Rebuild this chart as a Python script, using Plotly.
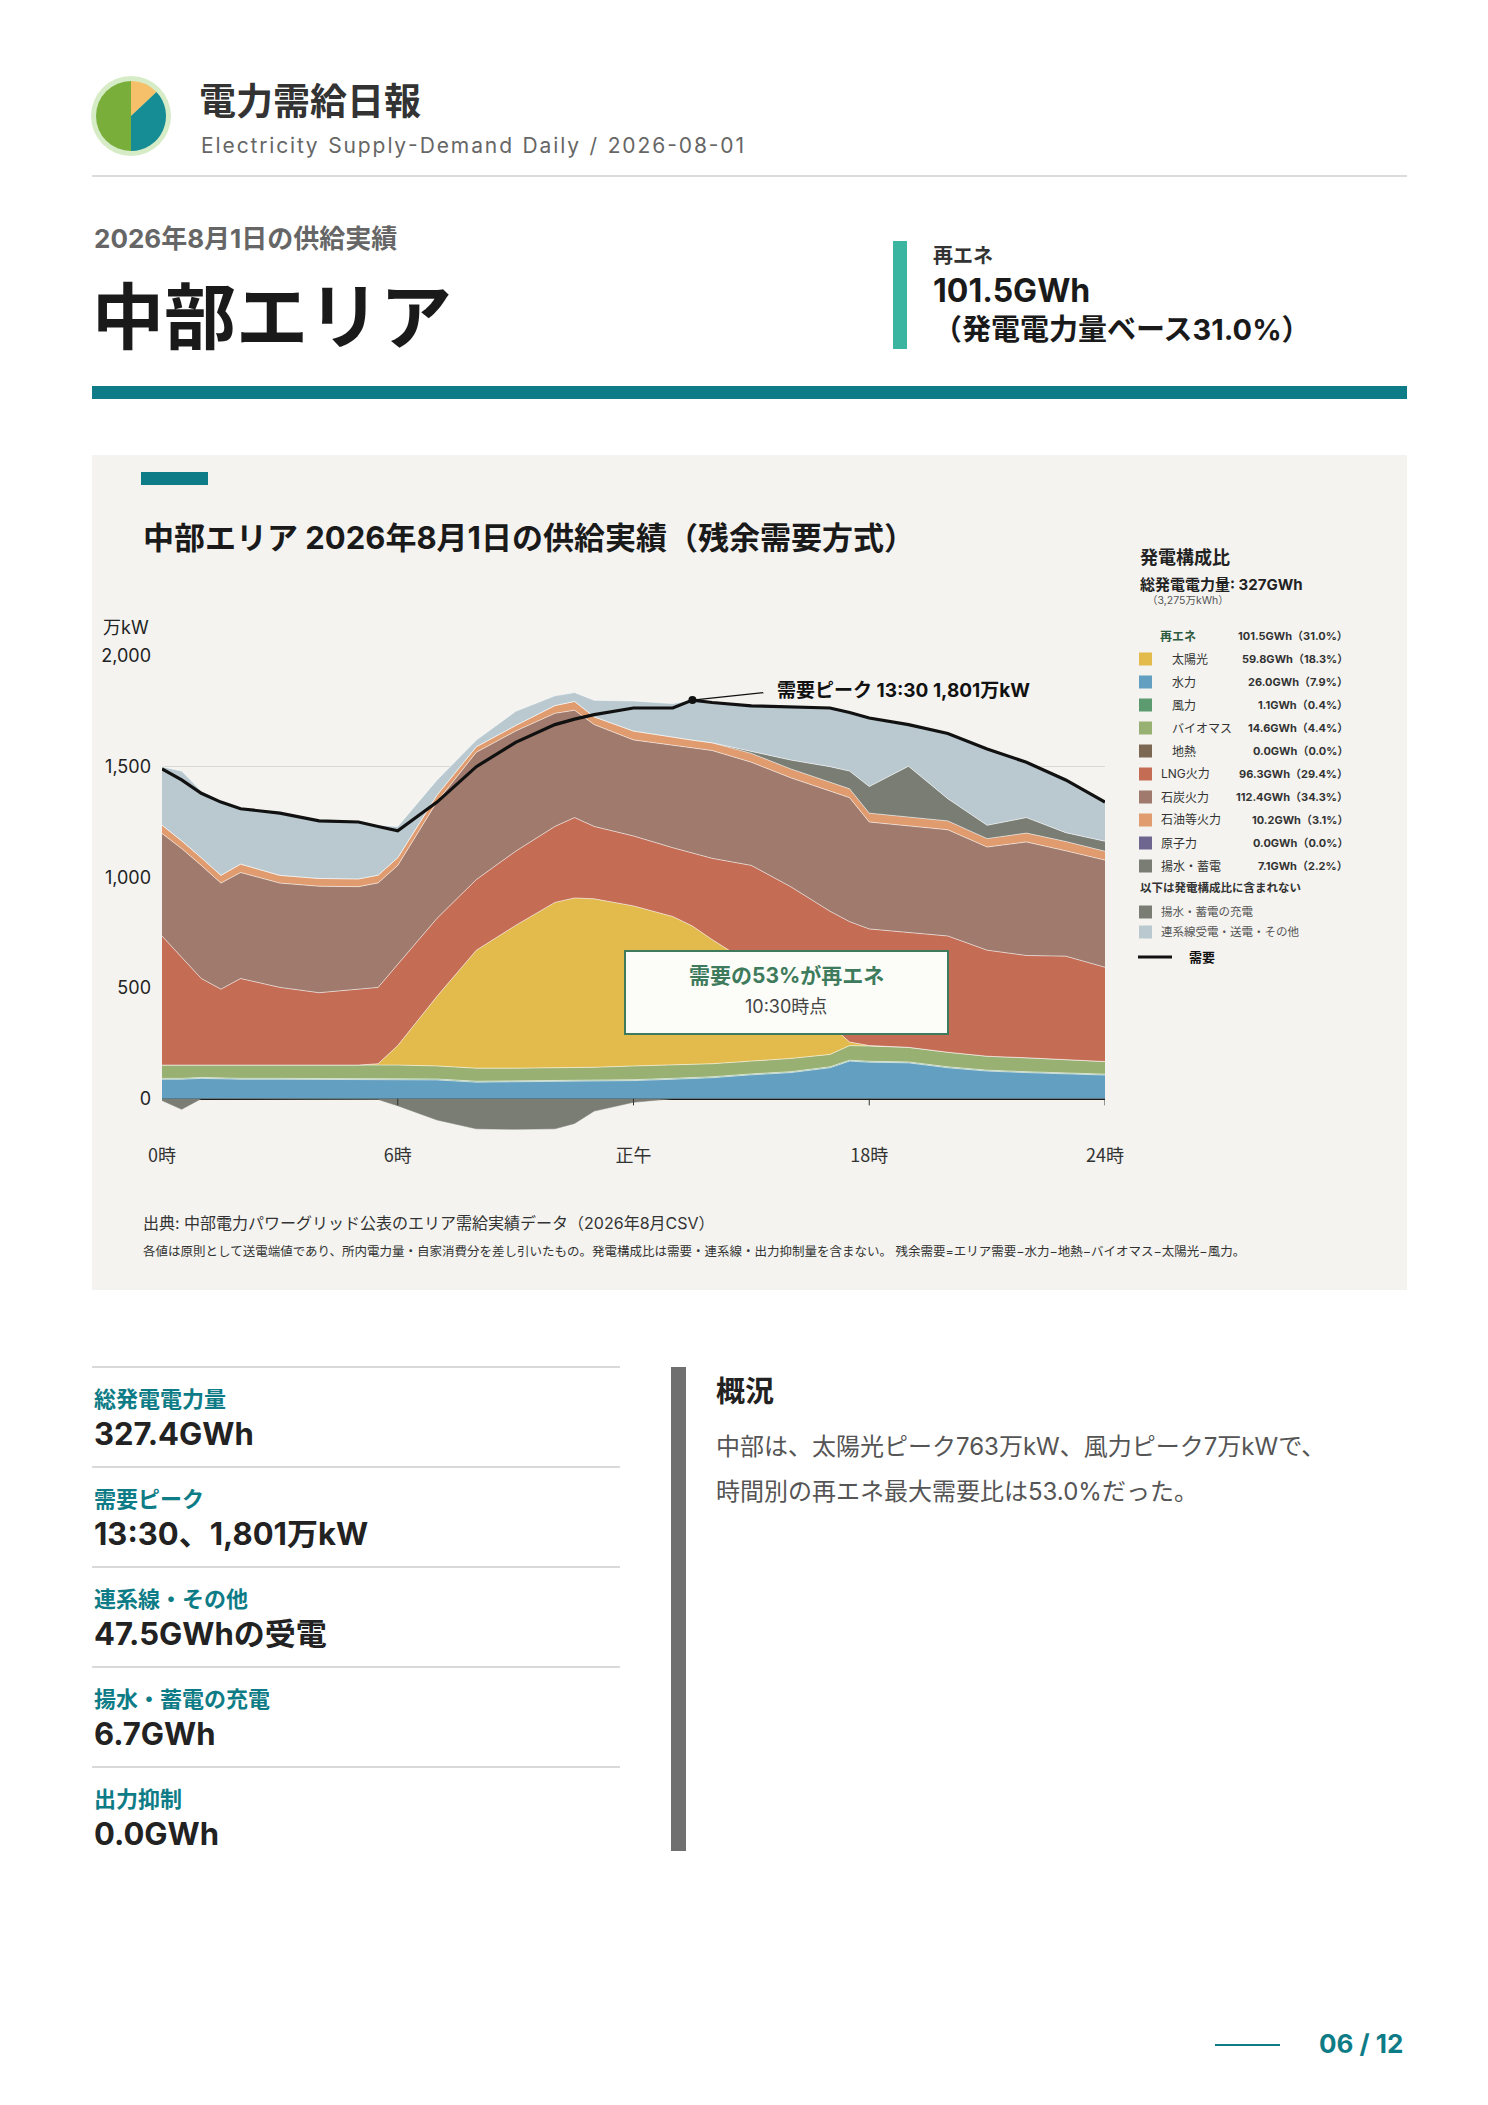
import plotly.graph_objects as go

W, H = 1488, 2105
F = "Inter, Noto Sans CJK JP, sans-serif"
FJ = "Noto Sans CJK JP, sans-serif"

# ---- data (万kW) ----
hours = [0,0.5,1,1.5,2,3,4,5,5.5,6,7,8,9,10,10.5,11,12,13,13.5,14,15,16,17,17.5,18,19,20,21,22,23,24]
demand = [1490,1440,1380,1340,1310,1290,1255,1250,1230,1210,1340,1500,1610,1690,1715,1735,1765,1765,1801,1790,1775,1770,1765,1745,1720,1690,1650,1580,1520,1440,1340]
hydro = [88,88,92,90,88,88,88,88,88,88,85,75,76,77,78,80,82,88,90,95,108,118,140,170,165,162,140,125,118,112,107]
wind = [4]*31
green_top = [152]*10 + [148,138,138,140,140,142,148,152,154,158,170,182,200,240,238,232,210,192,185,175,168]
solar_top = [0]*8 + [158,240,463,671,783,887,907,903,871,823,780,719,607,463,335,256,240] + [0]*6
lng_top = [735,640,543,495,543,503,479,495,503,607,815,990,1118,1230,1270,1230,1187,1134,1110,1086,1054,958,847,800,767,751,735,671,647,644,594]
coal_top = [1198,1130,1054,974,1022,974,960,958,975,1054,1342,1565,1661,1741,1755,1690,1621,1597,1585,1573,1520,1450,1390,1360,1250,1232,1215,1137,1160,1120,1078]
oil = [38,35,35,35,38,35,35,35,35,35,30,25,25,35,40,35,40,35,35,35,40,40,40,40,40,40,40,38,40,42,40]
pumped_gen = [0]*20 + [10,40,70,80,120,230,100,60,70,40,45]
ic_top = [1500,1480,1390,1345,1315,1295,1260,1255,1235,1230,1440,1620,1750,1820,1835,1800,1797,1785,1801,1790,1775,1770,1765,1745,1720,1690,1650,1580,1520,1440,1340]
pumped_charge = [-8,-48,0,0,0,0,0,0,-3,-32,-96,-136,-138,-136,-112,-56,-16] + [0]*14

xticks = [0,6,12,18,24]
xlabels = ["0時","6時","正午","18時","24時"]
yticks = [0,500,1000,1500,2000]
ylabels = ["0","500","1,000","1,500","2,000"]

legend_rows = [
    ("太陽光","59.8GWh（18.3%）","#e2bb4c",True),
    ("水力","26.0GWh（7.9%）","#629fc0",True),
    ("風力","1.1GWh（0.4%）","#5c9a70",True),
    ("バイオマス","14.6GWh（4.4%）","#98b072",True),
    ("地熱","0.0GWh（0.0%）","#7c6753",True),
    ("LNG火力","96.3GWh（29.4%）","#c56c55",False),
    ("石炭火力","112.4GWh（34.3%）","#a07a6c",False),
    ("石油等火力","10.2GWh（3.1%）","#e09b6e",False),
    ("原子力","0.0GWh（0.0%）","#6f6690",False),
    ("揚水・蓄電","7.1GWh（2.2%）","#7a7d74",False),
]

# ---- derived layers ----
n = len(hours)
base_ren = [max(green_top[i], solar_top[i]) for i in range(n)]
biomass = [green_top[i]-hydro[i]-wind[i] for i in range(n)]
solar = [max(solar_top[i]-green_top[i], 0) for i in range(n)]
lng = [lng_top[i]-base_ren[i] for i in range(n)]
coal = [coal_top[i]-lng_top[i] for i in range(n)]
ic = [max(ic_top[i]-(coal_top[i]+oil[i]+pumped_gen[i]), 0) for i in range(n)]

fig = go.Figure()
layers = [("水力",hydro,"#629fc0"),("風力",wind,"#5c9a70"),("バイオマス",biomass,"#98b072"),
          ("太陽光",solar,"#e2bb4c"),("LNG火力",lng,"#c56c55"),("石炭火力",coal,"#a07a6c"),
          ("石油等火力",oil,"#e09b6e"),("揚水・蓄電",pumped_gen,"#7a7d74"),("連系線",ic,"#b9c9cf")]
for name, vals, col in layers:
    fig.add_trace(go.Scatter(x=hours, y=vals, name=name, stackgroup="pos", mode="lines",
                             line=dict(width=0.8, color="rgba(255,255,255,0.7)"), fillcolor=col,
                             showlegend=False, hoverinfo="skip"))
fig.add_trace(go.Scatter(x=hours, y=pumped_charge, mode="lines", fill="tozeroy",
                         line=dict(width=0.5, color="#7a7d74"), fillcolor="#7a7d74", showlegend=False))
fig.add_trace(go.Scatter(x=hours, y=demand, mode="lines", line=dict(color="#111", width=3.2), showlegend=False))
fig.add_trace(go.Scatter(x=[13.5], y=[1801], mode="markers", marker=dict(color="#111", size=8), showlegend=False))

# pie icon
fig.add_trace(go.Pie(values=[13,37,50], marker=dict(colors=["#f6c06b","#168c95","#79ae3b"]),
                     sort=False, direction="clockwise", rotation=0, textinfo="none", hoverinfo="skip",
                     domain=dict(x=[96/W,166/W], y=[1-151/H,1-81/H]), showlegend=False))

px = lambda v: v/W
py = lambda v: 1-v/H

fig.update_layout(
    width=W, height=H, margin=dict(l=0,r=0,t=0,b=0,pad=0,autoexpand=False), paper_bgcolor="white",
    plot_bgcolor="#fafaf5", font=dict(family=F),
    xaxis=dict(domain=[px(162),px(1105)], range=[0,24], tickvals=xticks, ticktext=xlabels,
               showgrid=False, zeroline=False, ticks="", tickfont=dict(size=18,color="#333",family=FJ),
               fixedrange=True, automargin=False),
    yaxis=dict(domain=[py(1143),py(656)], range=[-200,2000], tickvals=yticks, ticktext=ylabels,
               showgrid=True, gridcolor="#d9d9d4", zeroline=True, zerolinecolor="#111", zerolinewidth=2.5,
               tickfont=dict(size=18,color="#222"), ticks="", ticklabelstandoff=10, automargin=False),
)

shapes = [
    dict(type="circle", xref="paper", yref="paper", x0=px(91), x1=px(171), y0=py(156), y1=py(76),
         fillcolor="#d6ecc6", line=dict(width=0), layer="below"),
    dict(type="line", xref="paper", yref="paper", x0=px(92), x1=px(1407), y0=py(176), y1=py(176), line=dict(color="#cfcfcf", width=1.5)),
    dict(type="rect", xref="paper", yref="paper", x0=px(893), x1=px(907), y0=py(349), y1=py(241), fillcolor="#3bb5a0", line=dict(width=0)),
    dict(type="rect", xref="paper", yref="paper", x0=px(92), x1=px(1407), y0=py(399), y1=py(386), fillcolor="#0e7c86", line=dict(width=0)),
    dict(type="rect", xref="paper", yref="paper", x0=px(92), x1=px(1407), y0=py(1290), y1=py(455), fillcolor="#f4f3f0", line=dict(width=0), layer="below"),
    dict(type="rect", xref="paper", yref="paper", x0=px(141), x1=px(208), y0=py(485), y1=py(472), fillcolor="#0e7c86", line=dict(width=0)),
    dict(type="rect", xref="paper", yref="paper", x0=px(625), x1=px(948), y0=py(1034), y1=py(951), fillcolor="#fcfcf8", line=dict(color="#3d7b5c", width=2)),
    dict(type="line", xref="x", yref="y", x0=13.5, y0=1801, x1=15.3, y1=1835, line=dict(color="#111", width=1.2)),
    dict(type="rect", xref="paper", yref="paper", x0=px(671), x1=px(686), y0=py(1851), y1=py(1367), fillcolor="#707070", line=dict(width=0)),
    dict(type="line", xref="paper", yref="paper", x0=px(1215), x1=px(1280), y0=py(2045), y1=py(2045), line=dict(color="#0e7c86", width=2)),
    dict(type="line", xref="paper", yref="paper", x0=px(1138), x1=px(1172), y0=py(957), y1=py(957), line=dict(color="#111", width=3)),
]
for k in range(5):
    yy = 1367 + 100*k
    shapes.append(dict(type="line", xref="paper", yref="paper", x0=px(92), x1=px(620), y0=py(yy), y1=py(yy), line=dict(color="#cccccc", width=1.5)))
for t in [6,12,18,24]:
    shapes.append(dict(type="line", xref="x", yref="y", x0=t, x1=t, y0=0, y1=-30, line=dict(color="#333", width=1)))

ann = []
def T(x, y, text, size, color="#222", bold=False, anchor="left", fam=F):
    ann.append(dict(xref="paper", yref="paper", x=px(x), y=py(y), text=f"<b>{text}</b>" if bold else text,
                    showarrow=False, xanchor=anchor, yanchor="middle", font=dict(size=size, color=color, family=fam)))

T(197, 99, "電力需給日報", 37, "#333", True, fam=FJ)
T(199, 146, "E l e c t r i c i t y  S u p p l y - D e m a n d  D a i l y  /  2 0 2 6 - 0 8 - 0 1".replace("  ","\u2002").replace(" ","\u200a"), 21, "#666")
T(92, 239, "2026年8月1日の供給実績", 26, "#666", True)
T(90, 311, "中部エリア", 72, "#1a1a1a", True, fam=FJ)
T(931, 256, "再エネ", 20, "#333", True)
T(931, 291, "101.5GWh", 32, "#1a1a1a", True)
T(931, 329, "（発電電力量ベース31.0%）", 29, "#1a1a1a", True)
T(141, 537, "中部エリア 2026年8月1日の供給実績（残余需要方式）", 31, "#1a1a1a", True)
T(101, 627, "万kW", 18, "#222")
T(141, 1223, "出典: 中部電力パワーグリッド公表のエリア需給実績データ（2026年8月CSV）", 16, "#333")
T(141, 1251, "各値は原則として送電端値であり、所内電力量・自家消費分を差し引いたもの。発電構成比は需要・連系線・出力抑制量を含まない。 残余需要=エリア需要−水力−地熱−バイオマス−太陽光−風力。", 12.5, "#333")
T(786, 975, "需要の53%が再エネ", 21, "#3d7b5c", True, "center")
T(786, 1006, "10:30時点", 18, "#444", False, "center")
T(775, 691, "需要ピーク 13:30 1,801万kW", 19, "#111", True)

# legend panel
T(1138, 557, "発電構成比", 18, "#222", True)
T(1138, 584, "総発電電力量: 327GWh", 15, "#222", True)
T(1145, 600, "（3,275万kWh）", 10.5, "#555")
T(1158, 636, "再エネ", 12, "#2d5a3e", True)
T(1350, 636, "101.5GWh（31.0%）", 11, "#333", True, "right")
for i, (lab, val, col, indent) in enumerate(legend_rows):
    yy = 659 + 23*i
    shapes.append(dict(type="rect", xref="paper", yref="paper", x0=px(1139), x1=px(1152), y0=py(yy+6.5), y1=py(yy-6.5), fillcolor=col, line=dict(width=0)))
    T(1170 if indent else 1159, yy, lab, 12, "#333")
    T(1350, yy, val, 11, "#333", True, "right")
T(1138, 888, "以下は発電構成比に含まれない", 11.5, "#333", True)
for i, (lab, col) in enumerate([("揚水・蓄電の充電","#7a7d74"),("連系線受電・送電・その他","#b9c9cf")]):
    yy = 912 + 20*i
    shapes.append(dict(type="rect", xref="paper", yref="paper", x0=px(1139), x1=px(1152), y0=py(yy+6.5), y1=py(yy-6.5), fillcolor=col, line=dict(width=0)))
    T(1159, yy, lab, 11.5, "#555")
T(1187, 957, "需要", 13, "#111", True)

# KPIs
kpis = [("総発電電力量","327.4GWh"),("需要ピーク","13:30、1,801万kW"),("連系線・その他","47.5GWhの受電"),
        ("揚水・蓄電の充電","6.7GWh"),("出力抑制","0.0GWh")]
for k, (lab, val) in enumerate(kpis):
    T(92, 1399+100*k, lab, 22, "#0e7c86", True)
    T(92, 1433+100*k, val, 31, "#222", True)

T(714, 1391, "概況", 29, "#222", True)
T(714, 1446, "中部は、太陽光ピーク763万kW、風力ピーク7万kWで、", 24, "#555")
T(714, 1491, "時間別の再エネ最大需要比は53.0%だった。", 24, "#555")
T(1405, 2043, "06 / 12", 26, "#0e7c86", True, "right")

fig.update_layout(shapes=shapes, annotations=ann)
fig.write_html("out.html", config={"displayModeBar": False},
               post_script="document.body.style.margin='0';document.body.style.overflow='hidden';")
